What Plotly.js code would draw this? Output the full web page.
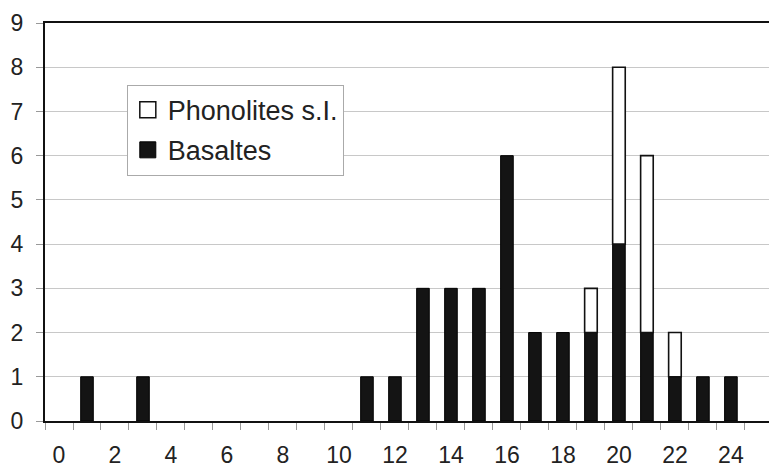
<!DOCTYPE html>
<html>
<head>
<meta charset="utf-8">
<script src="https://cdn.plot.ly/plotly-3.0.1.min.js"></script>
<style>html,body{margin:0;padding:0;background:#fff;}#chart{width:769px;height:468px;}</style>
</head>
<body>
<div id="chart"></div>
<script>
const categories = [0,1,2,3,4,5,6,7,8,9,10,11,12,13,14,15,16,17,18,19,20,21,22,23,24];
const basaltes    = [0,1,0,1,0,0,0,0,0,0,0,1,1,3,3,3,6,2,2,2,4,2,1,1,1];
const phonolites  = [0,0,0,0,0,0,0,0,0,0,0,0,0,0,0,0,0,0,0,1,4,4,1,0,0];
const xTickVals = [0,2,4,6,8,10,12,14,16,18,20,22,24];
const xTickText = ['0','2','4','6','8','10','12','14','16','18','20','22','24'];
const seriesNames = ['Basaltes','Phonolites s.I.'];

const FONT = 'Arial, "Liberation Sans", sans-serif';
const minorTicks = categories.map(c => c - 0.5).concat([categories[categories.length-1] + 0.5]);
const nz = arr => arr.map(v => v === 0 ? null : v);

const traces = [
  {type:'bar', name:seriesNames[0], x:categories, y:nz(basaltes), width:0.45,
   marker:{color:'#141414', line:{color:'#000', width:1}}, showlegend:false, hoverinfo:'x+y'},
  {type:'bar', name:seriesNames[1], x:categories, y:nz(phonolites), base:basaltes, width:0.45,
   marker:{color:'#ffffff', line:{color:'#111', width:1.6}}, showlegend:false, hoverinfo:'x+y'},
  {type:'scatter', mode:'markers', name:seriesNames[1], x:[null], y:[null], legendgroup:'p',
   marker:{symbol:'square', size:16, color:'#ffffff', line:{color:'#111', width:1.5}}},
  {type:'scatter', mode:'markers', name:seriesNames[0], x:[null], y:[null], legendgroup:'b',
   marker:{symbol:'square', size:16, color:'#141414', line:{color:'#000', width:1}}}
];

const layout = {
  width:769, height:468,
  margin:{l:45, r:0, t:23, b:47, pad:0},
  paper_bgcolor:'#fff', plot_bgcolor:'#fff',
  font:{family:FONT, size:23, color:'#222'},
  barmode:'overlay',
  showlegend:true,
  legend:{x:0.113, y:0.845, xanchor:'left', yanchor:'top',
          bgcolor:'#fff', bordercolor:'#aaa', borderwidth:1,
          font:{family:FONT, size:27, color:'#222'},
          traceorder:'grouped', tracegroupgap:2, itemsizing:'trace'},
  xaxis:{range:[-0.5, 25.36], tickmode:'array', tickvals:xTickVals, ticktext:xTickText,
         ticks:'', showgrid:false, zeroline:false,
         showline:true, linecolor:'#111', linewidth:2, mirror:true,
         ticklabelstandoff:12,
         tickfont:{family:FONT, size:23, color:'#222'},
         minor:{tickmode:'array', tickvals:minorTicks, ticks:'outside', ticklen:7, tickcolor:'#999', tickwidth:1, showgrid:false}},
  yaxis:{range:[0,9], tickmode:'linear', tick0:0, dtick:1,
         ticks:'outside', ticklen:7, tickcolor:'#999', tickwidth:1,
         showgrid:true, gridcolor:'#c8c8c8', gridwidth:1, zeroline:false,
         showline:true, linecolor:'#111', linewidth:2,
         ticklabelstandoff:8,
         tickfont:{family:FONT, size:23, color:'#222'}}
};

Plotly.newPlot('chart', traces, layout, {displayModeBar:false, staticPlot:true});
</script>
</body>
</html>
